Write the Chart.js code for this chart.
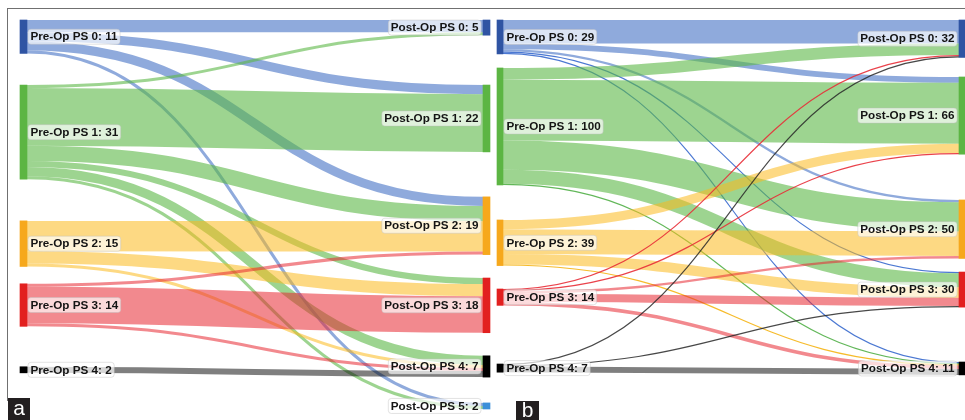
<!DOCTYPE html>
<html>
<head>
<meta charset="utf-8">
<script src="https://cdn.jsdelivr.net/npm/chart.js@4.4.1/dist/chart.umd.min.js"></script>
<style>
  html, body { margin: 0; padding: 0; background: #fff; }
  #page { position: relative; width: 965px; height: 420px; overflow: hidden; }
  #frame { position: absolute; left: 7px; top: 8px; width: 970px; height: 392px;
           border-top: 1.5px solid #707070; border-left: 1.5px solid #707070; }
  canvas { position: absolute; top: 0; }
  .tag { position: absolute; background: #231f20; color: #fff; text-align: center;
         font: 21px "Liberation Sans", Arial, sans-serif; }
</style>
</head>
<body>
<div id="page">
  <div id="frame"></div>
  <canvas id="panelA" width="492" height="420" style="left:0"></canvas>
  <canvas id="panelB" width="475" height="420" style="left:490px"></canvas>
  <div class="tag" style="left:8px;top:398px;width:22px;height:22px;line-height:20px">a</div>
  <div class="tag" style="left:516px;top:401px;width:23px;height:19px;line-height:17px">b</div>
</div>
<script>
// Performance status categories shared by both panels
const STATES = ['PS 0', 'PS 1', 'PS 2', 'PS 3', 'PS 4', 'PS 5'];

// Panel a: patients moving from pre-op to post-op status (rows = pre-op, cols = post-op)
const preStatesA = [0, 1, 2, 3, 4];
const postStatesA = [0, 1, 2, 3, 4, 5];
const flowsA = [
  [4, 3, 3, 0, 0, 1],
  [1, 19, 5, 2, 3, 1],
  [0, 0, 10, 4, 1, 0],
  [0, 0, 1, 12, 1, 0],
  [0, 0, 0, 0, 2, 0]
];

// Panel b
const preStatesB = [0, 1, 2, 3, 4];
const postStatesB = [0, 1, 2, 3, 4];
const flowsB = [
  [20, 5, 2, 1, 1],
  [10, 52, 25, 12, 1],
  [0, 8, 21, 9, 1],
  [1, 1, 2, 7, 3],
  [1, 0, 0, 1, 5]
];

// Colours per status
const nodeColors = ['#2f54a3', '#5cb543', '#f6a81c', '#e2201f', '#000000', '#3b8fd9'];
const bandColors = ['rgba(68,114,196,0.6)', 'rgba(92,184,70,0.6)', 'rgba(252,186,30,0.55)',
                    'rgba(232,40,50,0.55)', 'rgba(0,0,0,0.5)', 'rgba(59,143,217,0.6)'];
const threadColors = ['rgba(55,105,205,0.9)', 'rgba(70,170,60,0.85)', 'rgba(245,180,20,0.9)',
                      'rgba(232,45,55,0.9)', 'rgba(40,40,40,0.85)', 'rgba(59,143,217,0.9)'];

// Layout: vertical gaps (in patient units) between stacked nodes of each column
const layoutA = { preGaps: [10.4, 13.7, 5.7, 13.3], postGaps: [16.4, 14.8, 7.7, 7.6, 8.5],
                  yMax: 128, nodeWidth: 7, padding: { left: 23.5, right: 5.5, top: 20, bottom: 11 } };
const layoutB = { preGaps: [12.0, 29.9, 20.0, 50.1], postGaps: [16.7, 39.1, 11.6, 46.9],
                  yMax: 303.4, nodeWidth: 6, padding: { left: 10, right: 3, top: 20, bottom: 45 } };

function buildModel(preStates, postStates, flows, layout) {
  const preVals = preStates.map((s, i) => flows[i].reduce((a, b) => a + b, 0));
  const postVals = postStates.map((s, j) => flows.reduce((a, row) => a + row[j], 0));
  const stack = (vals, gaps) => {
    let pos = 0;
    return vals.map((v, k) => {
      if (k > 0) pos += gaps[k - 1];
      const n = { y0: pos, y1: pos + v, value: v };
      pos += v;
      return n;
    });
  };
  const pre = stack(preVals, layout.preGaps).map((n, i) => Object.assign(n, { state: preStates[i] }));
  const post = stack(postVals, layout.postGaps).map((n, j) => Object.assign(n, { state: postStates[j] }));
  const outOff = pre.map(n => n.y0);
  const inOff = post.map(n => n.y0);
  const links = [];
  flows.forEach((row, i) => row.forEach((v, j) => {
    if (v > 0) links.push({ i, j, v, s0: 0, t0: 0 });
  }));
  // bands leave a source in target order and enter a target in source order
  for (let j = 0; j < post.length; j++) {
    links.filter(l => l.j === j).sort((a, b) => a.i - b.i).forEach(l => { l.t0 = inOff[j]; inOff[j] += l.v; });
  }
  for (let i = 0; i < pre.length; i++) {
    links.filter(l => l.i === i).sort((a, b) => a.j - b.j).forEach(l => { l.s0 = outOff[i]; outOff[i] += l.v; });
  }
  return { pre, post, links };
}

function sankeyPlugin(model, layout) {
  return {
    id: 'sankeyLinks',
    beforeDatasetsDraw(chart) {
      const { ctx, scales: { x, y } } = chart;
      const xs = x.getPixelForValue(0) + layout.nodeWidth / 2;
      const xt = x.getPixelForValue(1) - layout.nodeWidth / 2;
      const xm = (xs + xt) / 2;
      ctx.save();
      ctx.lineCap = 'butt';
      model.links.forEach(l => {
        const ys = y.getPixelForValue(l.s0 + l.v / 2);
        const yt = y.getPixelForValue(l.t0 + l.v / 2);
        const w = Math.abs(y.getPixelForValue(l.v) - y.getPixelForValue(0));
        const st = model.pre[l.i].state;
        ctx.beginPath();
        ctx.moveTo(xs, ys);
        ctx.bezierCurveTo(xm, ys, xm, yt, xt, yt);
        ctx.lineWidth = Math.max(w, 1.1);
        ctx.strokeStyle = w < 2 ? threadColors[st] : bandColors[st];
        ctx.stroke();
      });
      ctx.restore();
    },
    afterDatasetsDraw(chart) {
      const { ctx, scales: { x, y } } = chart;
      ctx.save();
      ctx.font = 'bold 11.7px "Liberation Sans", Arial, sans-serif';
      ctx.textBaseline = 'middle';
      const drawLabel = (text, xEdge, yc, side) => {
        const tw = ctx.measureText(text).width;
        const bw = tw + 5, bh = 15;
        const bx = side === 'left' ? xEdge + 1 : xEdge - 2 - bw;
        const by = yc - bh / 2;
        ctx.beginPath();
        ctx.roundRect(bx, by, bw, bh, 3);
        ctx.fillStyle = 'rgba(255,255,255,0.68)';
        ctx.fill();
        ctx.lineWidth = 0.8;
        ctx.strokeStyle = 'rgba(190,190,190,0.55)';
        ctx.stroke();
        ctx.fillStyle = '#141414';
        ctx.textAlign = 'left';
        ctx.fillText(text, bx + 2.5, yc + 0.5);
      };
      const xl = x.getPixelForValue(0) + layout.nodeWidth / 2;
      const xr = x.getPixelForValue(1) - layout.nodeWidth / 2;
      model.pre.forEach(n => {
        drawLabel('Pre-Op ' + STATES[n.state] + ': ' + n.value, xl, y.getPixelForValue((n.y0 + n.y1) / 2), 'left');
      });
      model.post.forEach(n => {
        drawLabel('Post-Op ' + STATES[n.state] + ': ' + n.value, xr, y.getPixelForValue((n.y0 + n.y1) / 2), 'right');
      });
      ctx.restore();
    }
  };
}

function drawPanel(canvasId, preStates, postStates, flows, layout) {
  const model = buildModel(preStates, postStates, flows, layout);
  const used = [...new Set([...preStates, ...postStates])].sort((a, b) => a - b);
  const datasets = used.map(s => {
    const pi = preStates.indexOf(s), qi = postStates.indexOf(s);
    return {
      label: STATES[s],
      data: [
        pi >= 0 ? [model.pre[pi].y0, model.pre[pi].y1] : null,
        qi >= 0 ? [model.post[qi].y0, model.post[qi].y1] : null
      ],
      backgroundColor: nodeColors[s],
      borderWidth: 0,
      grouped: false,
      barThickness: layout.nodeWidth,
      clip: false
    };
  });
  return new Chart(document.getElementById(canvasId), {
    type: 'bar',
    data: { labels: ['Pre-Op', 'Post-Op'], datasets },
    options: {
      responsive: false,
      animation: false,
      devicePixelRatio: 1,
      layout: { padding: layout.padding },
      scales: {
        x: { type: 'category', offset: false, display: false },
        y: { type: 'linear', reverse: true, min: 0, max: layout.yMax, display: false }
      },
      plugins: { legend: { display: false }, tooltip: { enabled: false } }
    },
    plugins: [sankeyPlugin(model, layout)]
  });
}

drawPanel('panelA', preStatesA, postStatesA, flowsA, layoutA);
drawPanel('panelB', preStatesB, postStatesB, flowsB, layoutB);
</script>
</body>
</html>
